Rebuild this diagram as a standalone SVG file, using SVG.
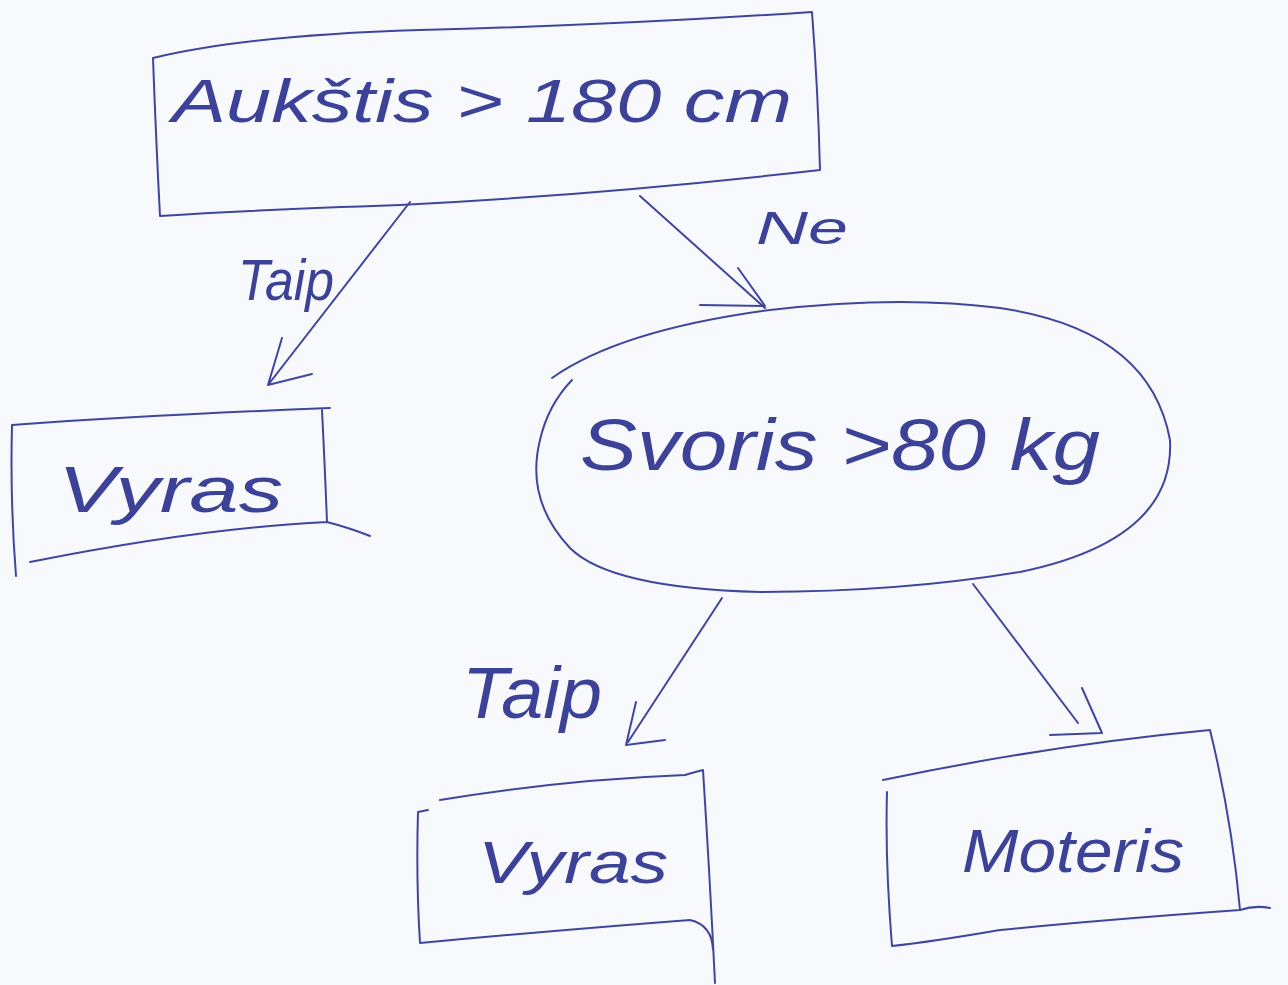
<svg xmlns="http://www.w3.org/2000/svg" width="1288" height="985" viewBox="0 0 1288 985">
<style>
.ln{fill:none;stroke:#40469c;stroke-width:2;stroke-linecap:round;stroke-linejoin:round}
.t{font-family:"Liberation Sans","DejaVu Sans",sans-serif;fill:#3c4298;font-style:italic}
</style>
<rect width="1288" height="985" fill="#f8f9fd"/>
<g id="node-height">
<path class="ln" d="M153,58 Q250,35 420,30 Q620,25 812,12 Q818,90 820,170 Q600,195 400,205 Q250,210 160,216 Q156,140 153,58"/>
<text class="t" x="172" y="122" font-size="62" textLength="620" lengthAdjust="spacingAndGlyphs">Aukštis &gt; 180 cm</text>
</g>
<g id="node-vyras1">
<path class="ln" d="M12,425 Q150,415 330,408 M322,410 Q325,470 327,522 Q350,528 370,536 M327,522 Q200,528 30,562 M12,425 Q10,500 16,576"/>
<text class="t" x="58" y="512" font-size="64" textLength="225" lengthAdjust="spacingAndGlyphs">Vyras</text>
</g>
<g id="node-weight">
<path class="ln" d="M552,378 Q620,330 770,310 Q900,295 1000,308 Q1150,330 1170,440 Q1175,540 1020,572 Q900,592 760,592 Q610,588 570,548 Q525,500 540,440 Q548,405 572,380"/>
<text class="t" x="580" y="470" font-size="72" textLength="520" lengthAdjust="spacingAndGlyphs">Svoris &gt;80 kg</text>
</g>
<g id="node-vyras2">
<path class="ln" d="M440,800 Q560,780 685,775 Q695,772 703,770 Q710,880 715,983 M418,812 Q416,880 420,943 Q560,930 690,920 Q712,925 713,950 M418,812 L428,810"/>
<text class="t" x="478" y="883" font-size="60" textLength="190" lengthAdjust="spacingAndGlyphs">Vyras</text>
</g>
<g id="node-moteris">
<path class="ln" d="M883,780 Q1050,745 1210,730 Q1232,820 1240,910 Q1255,905 1270,908 M1240,910 Q1100,920 1000,930 Q930,942 892,946 Q885,860 887,792"/>
<text class="t" x="962" y="872" font-size="62" textLength="222" lengthAdjust="spacingAndGlyphs">Moteris</text>
</g>
<g id="connectors">
<path class="ln" d="M410,202 L268,385 M282,338 L268,385 L312,374"/>
<path class="ln" d="M640,196 L765,308 M738,268 L765,306 L700,305"/>
<path class="ln" d="M722,598 L628,742 M636,702 L626,745 L665,740"/>
<path class="ln" d="M973,584 L1078,723 M1082,688 L1102,733 L1050,735"/>
<text class="t" x="238" y="300" font-size="58" textLength="96" lengthAdjust="spacingAndGlyphs">Taip</text>
<text class="t" x="756" y="244" font-size="46" textLength="92" lengthAdjust="spacingAndGlyphs">Ne</text>
<text class="t" x="462" y="718" font-size="72" textLength="140" lengthAdjust="spacingAndGlyphs">Taip</text>
</g>
</svg>
